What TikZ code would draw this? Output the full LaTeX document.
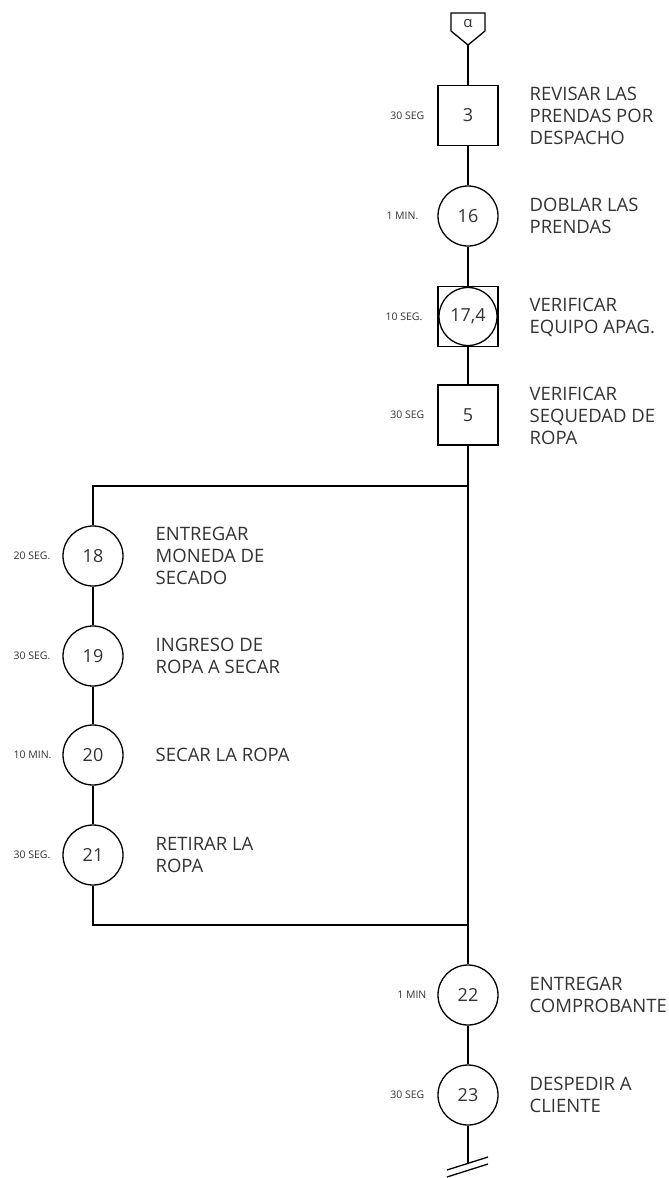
\documentclass[tikz,border=0pt]{standalone}
\usepackage{fontspec}
\setmainfont{Open Sans}
\begin{document}
\begin{tikzpicture}[x=1pt,y=-1pt,
  line width=1.3pt,
  every node/.style={text=black!80},
  opcirc/.style={draw=black,circle,minimum size=60pt,inner sep=0pt,font=\fontsize{18}{20}\selectfont},
  insbox/.style={draw=black,rectangle,minimum size=60pt,inner sep=0pt,font=\fontsize{18}{20}\selectfont},
  desc/.style={anchor=west,align=left,inner sep=0pt,font=\fontsize{18.5}{22}\selectfont},
  timeR/.style={anchor=east,inner sep=0pt,font=\fontsize{10.5}{12}\selectfont},
  timeL/.style={anchor=west,inner sep=0pt,font=\fontsize{10.5}{12}\selectfont}]
\useasboundingbox (0,0) rectangle (669,1178);
% start connector symbol
\draw (451,13) -- (485,13) -- (485,31) -- (468,45) -- (451,31) -- cycle;
\node[inner sep=0pt,font=\fontsize{15}{16}\selectfont] (alpha) at (468,23.5) {α};
\coordinate (tip) at (468,45);
% right column
\node[insbox] (s3) at (468,115.5) {3};
\node[opcirc] (c16) at (468,216) {16};
\node[insbox] (s17) at (468,316.5) {};
\node[opcirc,minimum size=58pt] (c17) at (468,316.5) {17,4};
\node[insbox] (s5) at (468,415) {5};
\coordinate (j1) at (468,486);
\coordinate (j1l) at (93,486);
% left column
\node[opcirc] (c18) at (93,556) {18};
\node[opcirc] (c19) at (93,656) {19};
\node[opcirc] (c20) at (93,755) {20};
\node[opcirc] (c21) at (93,855) {21};
\coordinate (j2) at (468,925);
\coordinate (j2l) at (93,925);
\node[opcirc] (c22) at (468,995) {22};
\node[opcirc] (c23) at (468,1095) {23};
\coordinate (fin) at (468,1163);
\coordinate (sa1) at (447,1170);
\coordinate (sa2) at (488,1157);
\coordinate (sb1) at (447,1177);
\coordinate (sb2) at (488,1164);
% connectors
\draw (tip) -- (s3.north);
\draw (s3.south) -- (c16.north);
\draw (c16.south) -- (s17.north);
\draw (s17.south) -- (s5.north);
\draw (s5.south) -- (j1) -- (j2) -- (c22.north);
\draw (j1) -- (j1l) -- (c18.north);
\draw (c18.south) -- (c19.north);
\draw (c19.south) -- (c20.north);
\draw (c20.south) -- (c21.north);
\draw (c21.south) -- (j2l) -- (j2);
\draw (c22.south) -- (c23.north);
\draw (c23.south) -- (fin);
\draw (sa1) -- (sa2);
\draw (sb1) -- (sb2);
% descriptions
\node[desc] (d3) at (529,115.5) {REVISAR LAS\\PRENDAS POR\\DESPACHO};
\node[desc] (d16) at (529,216) {DOBLAR LAS\\PRENDAS};
\node[desc] (d17) at (529,317) {VERIFICAR\\EQUIPO APAG.};
\node[desc] (d5) at (529,416) {VERIFICAR\\SEQUEDAD DE\\ROPA};
\node[desc] (d18) at (155,556) {ENTREGAR\\MONEDA DE\\SECADO};
\node[desc] (d19) at (155,656) {INGRESO DE\\ROPA A SECAR};
\node[desc] (d20) at (155,755) {SECAR LA ROPA};
\node[desc] (d21) at (155,855) {RETIRAR LA\\ROPA};
\node[desc] (d22) at (529,995) {ENTREGAR\\COMPROBANTE};
\node[desc] (d23) at (529,1095) {DESPEDIR A\\CLIENTE};
% times
\node[timeR] (t3) at (425,115.5) {30 SEG};
\node[timeR] (t16) at (419,216) {1 MIN.};
\node[timeR] (t17) at (423,316.5) {10 SEG.};
\node[timeR] (t5) at (425,415) {30 SEG};
\node[timeL] (t18) at (13,556) {20 SEG.};
\node[timeL] (t19) at (13,656) {30 SEG.};
\node[timeL] (t20) at (13,755) {10 MIN.};
\node[timeL] (t21) at (13,855) {30 SEG.};
\node[timeR] (t22) at (427,995) {1 MIN};
\node[timeR] (t23) at (425,1095) {30 SEG};
\end{tikzpicture}
\end{document}
